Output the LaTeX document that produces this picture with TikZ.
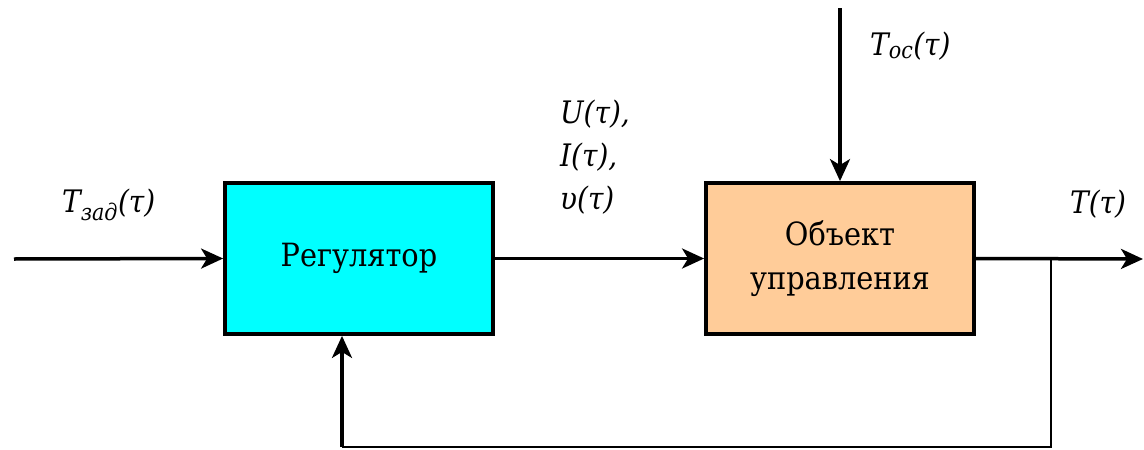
\documentclass[tikz,border=0pt]{standalone}
\usepackage{fontspec}
\setmainfont{DejaVu Serif Condensed}
\usetikzlibrary{arrows.meta}
\definecolor{regcol}{HTML}{00FFFF}
\definecolor{objcol}{HTML}{FFCC99}
\begin{document}
\begin{tikzpicture}[x=1pt,y=-1pt,
  blockbox/.style={draw=black,line width=3.8pt,minimum width=268pt,minimum height=151pt,inner sep=0pt,align=center,font=\fontsize{32}{44}\selectfont},
  sig/.style={line width=3.5pt,-{Stealth[length=22pt,width=20pt,inset=6pt]}},
  thinline/.style={line width=1.6pt},
  lbl/.style={font=\fontsize{31}{43}\selectfont\itshape,inner sep=0pt,align=left}]
\useasboundingbox (0,0) rectangle (1144,450);
\node[blockbox,fill=regcol] (reg) at (359,258.5) {Регулятор};
\node[blockbox,fill=objcol] (obj) at (840,258.5) {Объект\\управления};
\coordinate (in) at (14,259);
\coordinate (out) at (1143,259);
\coordinate (top) at (840,8);
\coordinate (tap) at (1051,259);
\coordinate (br) at (1051,447);
\coordinate (bl) at (342,447);
\draw[sig] (in) -- (reg.west);
\draw[sig] (reg.east) -- (obj.west);
\draw[sig] (obj.east) -- (out);
\draw[sig] (top) -- (obj.north);
\draw[thinline] (tap) -- (br) -- (bl);
\draw[sig] (bl) -- (reg.south -| bl);
\node[lbl,anchor=base west] (tzad) at (62,212) {T\textsubscript{\fontsize{23}{30}\selectfont зад}(τ)};
\node[lbl,anchor=north west] (uit) at (560,100) {U(τ),\\I(τ),\\υ(τ)};
\node[lbl,anchor=base west] (toc) at (870,55) {T\textsubscript{\fontsize{23}{30}\selectfont ос}(τ)};
\node[lbl,anchor=base west] (tt) at (1070,213) {T(τ)};
\end{tikzpicture}
\end{document}
